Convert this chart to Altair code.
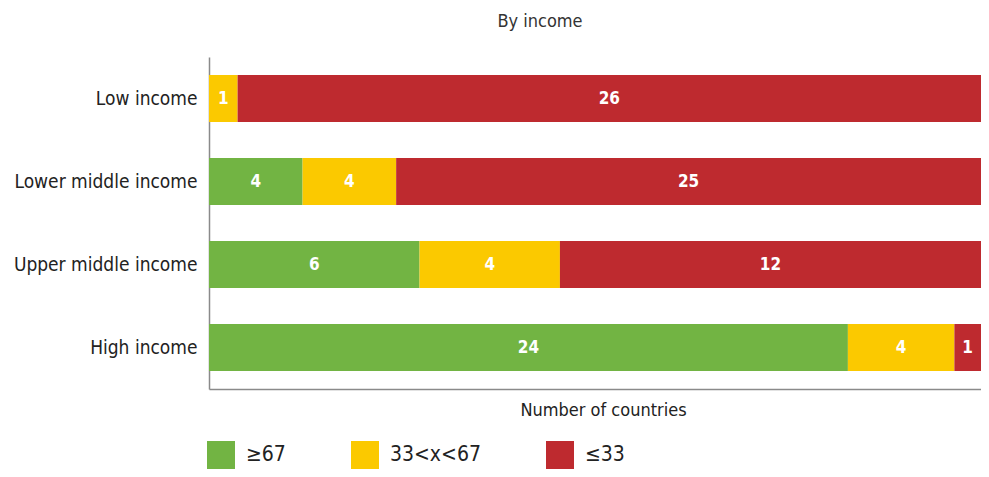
import altair as alt
import pandas as pd

income = ["Low income", "Lower middle income", "Upper middle income", "High income"]
bands = ["≥67", "33<x<67", "≤33"]
high_vals = [0, 4, 6, 24]
mid_vals = [1, 4, 4, 4]
low_vals = [26, 25, 12, 1]
colors = ["#72B443", "#FBC900", "#BE2A2F"]

rows = []
for i, inc in enumerate(income):
    for j, vals in enumerate([high_vals, mid_vals, low_vals]):
        rows.append({"income": inc, "band": bands[j], "order": j, "count": vals[i]})
df = pd.DataFrame(rows)

FONT = "Liberation Sans Narrow, DejaVu Sans Condensed, sans-serif"

base = (
    alt.Chart(df)
    .transform_filter("datum.count > 0")
    .transform_stack(
        stack="count",
        groupby=["income"],
        as_=["x0", "x1"],
        offset="normalize",
        sort=[alt.SortField("order", order="ascending")],
    )
    .transform_calculate(mid="(datum.x0 + datum.x1) / 2")
)

yenc = alt.Y(
    "income:N",
    sort=income,
    scale=alt.Scale(paddingInner=0.434, paddingOuter=0.217),
    axis=alt.Axis(
        title=None,
        ticks=False,
        domainColor="#8a8a8a",
        domainWidth=1.5,
        labelFontSize=19,
        labelFont=FONT,
        labelColor="#222222",
        labelPadding=12,
        labelLimit=0,
    ),
)

bars = base.mark_bar().encode(
    x=alt.X(
        "x0:Q",
        scale=alt.Scale(domain=[0, 1], nice=False),
        axis=alt.Axis(
            labels=False,
            ticks=False,
            grid=False,
            title="Number of countries",
            titleFont=FONT,
            titleFontSize=18,
            titleFontWeight="normal",
            titleColor="#222222",
            titlePadding=12,
            titleX=394,
            titleAlign="center",
            domainColor="#8a8a8a",
            domainWidth=1.5,
        ),
    ),
    x2="x1:Q",
    y=yenc,
    color=alt.Color(
        "band:N",
        scale=alt.Scale(domain=bands, range=colors),
        legend=alt.Legend(
            title=None,
            orient="none",
            legendX=-2,
            legendY=384,
            direction="horizontal",
            columns=3,
            columnPadding=65,
            symbolType="square",
            symbolSize=784,
            symbolStrokeWidth=0,
            symbolOpacity=1,
            labelFont=FONT,
            labelFontSize=21,
            labelColor="#222222",
            labelOffset=11,
        ),
    ),
)

texts = base.mark_text(
    color="white", fontWeight="bold", fontSize=17, font=FONT
).encode(
    x=alt.X("mid:Q"),
    y=alt.Y("income:N", sort=income),
    text="count:Q",
)

chart = (
    alt.layer(bars, texts)
    .properties(
        width=772,
        height=332,
        autosize="none",
        padding={"left": 201, "top": 49, "right": 0, "bottom": 80},
        title=alt.TitleParams(
            "By income",
            font=FONT,
            fontSize=18,
            fontWeight="normal",
            color="#333333",
            dx=-55,
            offset=26,
        ),
    )
    .configure_view(stroke=None)
)

chart.save("out.html", embed_options={"renderer": "svg", "actions": False})
